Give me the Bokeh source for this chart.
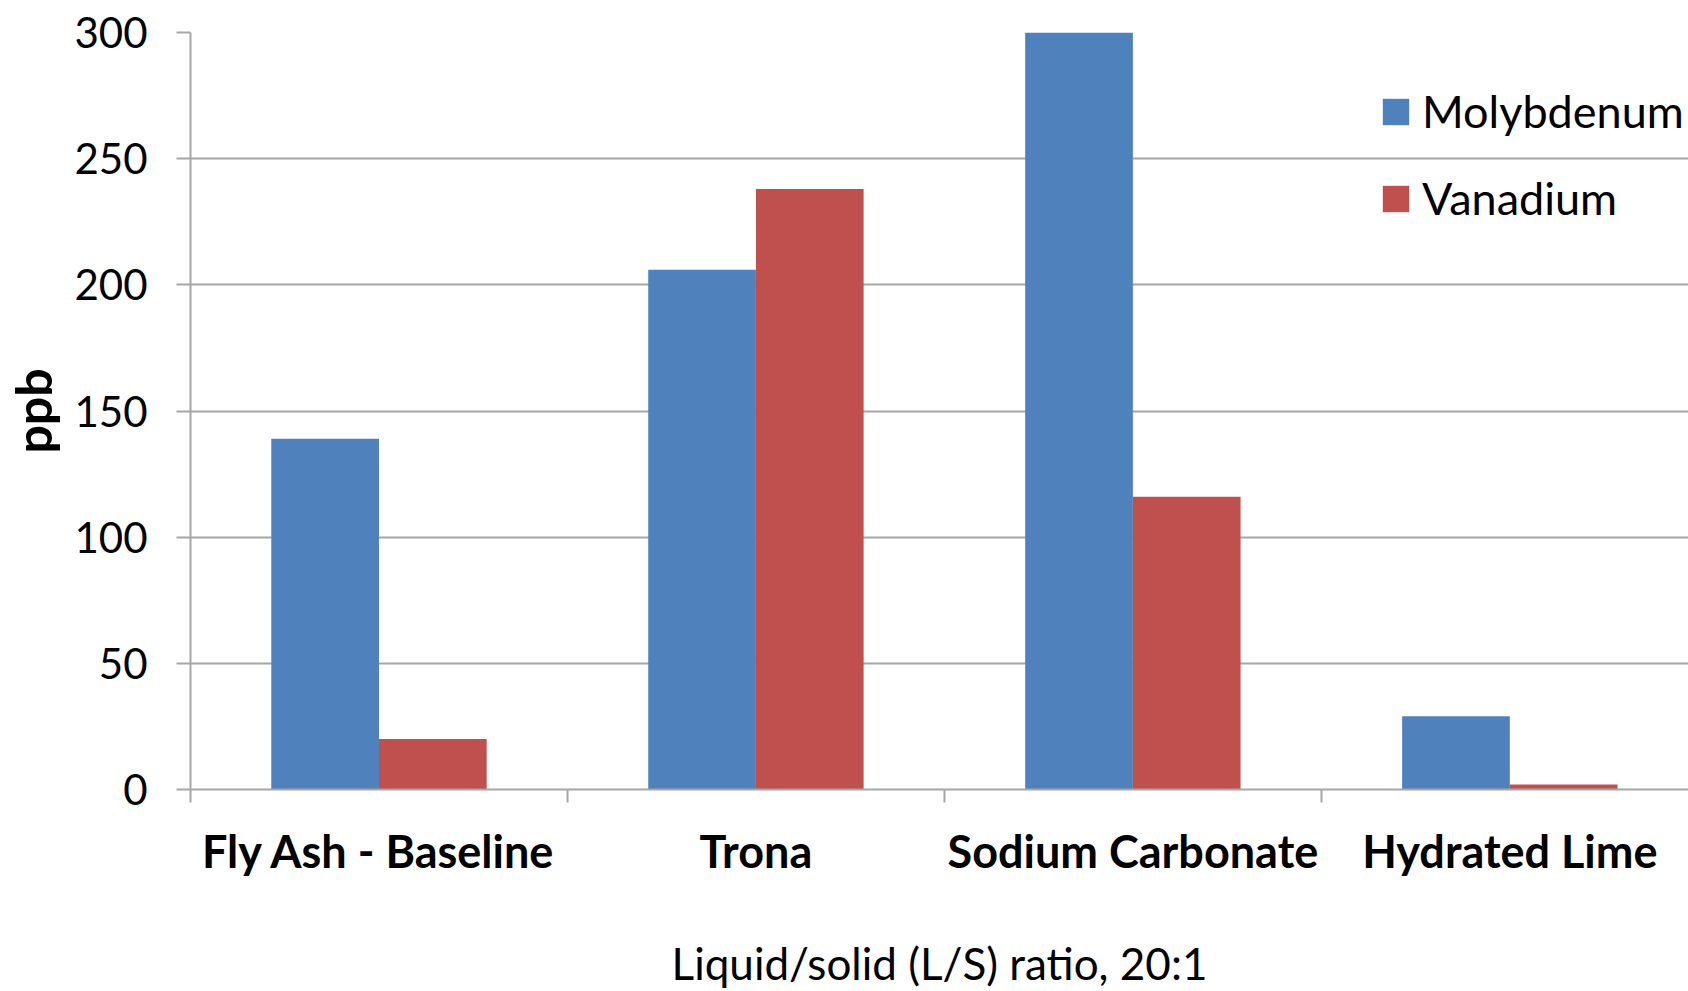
from bokeh.plotting import figure
from bokeh.models import Range1d, FixedTicker, Legend, LegendItem, ColumnDataSource
from bokeh.embed import file_html
from bokeh.resources import INLINE

categories = ["Fly Ash - Baseline", "Trona", "Sodium Carbonate", "Hydrated Lime"]
molybdenum = [139, 206, 300, 29]
vanadium = [20, 238, 116, 2]
y_ticks = [0, 50, 100, 150, 200, 250, 300]
x_title = "Liquid/solid (L/S) ratio, 20:1"
y_title = "ppb"

FONT = "Lato"
BLUE = "#4F81BD"
RED = "#C0504D"
GRID = "#A6A6A6"

p = figure(width=1688, height=991, output_backend="svg", toolbar_location=None,
           x_range=Range1d(0, 3.974), y_range=Range1d(0, 300),
           min_border_left=188, min_border_top=32, min_border_right=0, min_border_bottom=199)
p.outline_line_color = None
p.background_fill_color = "white"
p.border_fill_color = "white"

bw = 0.2857
xs_mo = [i + 0.5 - bw / 2 for i in range(len(categories))]
xs_v = [i + 0.5 + bw / 2 for i in range(len(categories))]
src_mo = ColumnDataSource(dict(x=xs_mo, top=molybdenum))
src_v = ColumnDataSource(dict(x=xs_v, top=vanadium))
r_mo = p.vbar(x="x", top="top", width=bw, source=src_mo, fill_color=BLUE, line_color=None)
r_v = p.vbar(x="x", top="top", width=bw, source=src_v, fill_color=RED, line_color=None)

# y axis
p.yaxis.ticker = FixedTicker(ticks=y_ticks)
p.yaxis.minor_tick_line_color = None
p.yaxis.major_tick_out = 14
p.yaxis.major_tick_in = 0
p.yaxis.major_tick_line_color = GRID
p.yaxis.major_tick_line_width = 2
p.yaxis.axis_line_color = GRID
p.yaxis.axis_line_width = 2
p.yaxis.major_label_text_font = FONT
p.yaxis.major_label_text_font_size = "42px"
p.yaxis.major_label_text_color = "black"
p.yaxis.major_label_standoff = 29
p.yaxis.axis_label = y_title
p.yaxis.axis_label_text_font = FONT
p.yaxis.axis_label_text_font_style = "bold"
p.yaxis.axis_label_text_font_size = "50px"
p.yaxis.axis_label_text_color = "black"
p.yaxis.axis_label_standoff = 8

# x axis: labels at centres, ticks at boundaries
centers = [i + 0.5 for i in range(len(categories))]
p.xaxis.ticker = FixedTicker(ticks=centers, minor_ticks=[0, 1, 2, 3, 4])
p.xaxis.major_label_overrides = {c: name for c, name in zip(centers, categories)}
p.xaxis.major_tick_line_color = None
p.xaxis.minor_tick_line_color = GRID
p.xaxis.minor_tick_line_width = 2
p.xaxis.minor_tick_out = 13
p.xaxis.minor_tick_in = 0
p.xaxis.axis_line_color = GRID
p.xaxis.axis_line_width = 2
p.xaxis.major_label_text_font = FONT
p.xaxis.major_label_text_font_style = "bold"
p.xaxis.major_label_text_font_size = "45px"
p.xaxis.major_label_text_color = "black"
p.xaxis.major_label_standoff = 21
p.xaxis.axis_label = x_title
p.xaxis.axis_label_text_font = FONT
p.xaxis.axis_label_text_font_style = "normal"
p.xaxis.axis_label_text_font_size = "44px"
p.xaxis.axis_label_text_color = "black"
p.xaxis.axis_label_standoff = 56

p.xgrid.grid_line_color = None
p.ygrid.ticker = FixedTicker(ticks=y_ticks)
p.ygrid.grid_line_color = GRID
p.ygrid.grid_line_width = 2

legend = Legend(items=[LegendItem(label="Molybdenum", renderers=[r_mo]),
                       LegendItem(label="Vanadium", renderers=[r_v])],
                location=(1189, 564), orientation="vertical")
legend.border_line_color = None
legend.background_fill_alpha = 0
legend.padding = 0
legend.margin = 0
legend.glyph_width = 33
legend.glyph_height = 33
legend.label_height = 50
legend.spacing = 33
legend.label_standoff = 10
legend.label_text_font = FONT
legend.label_text_font_size = "45px"
legend.label_text_color = "black"
p.add_layout(legend)

open("out.html", "w").write(file_html(p, INLINE))
